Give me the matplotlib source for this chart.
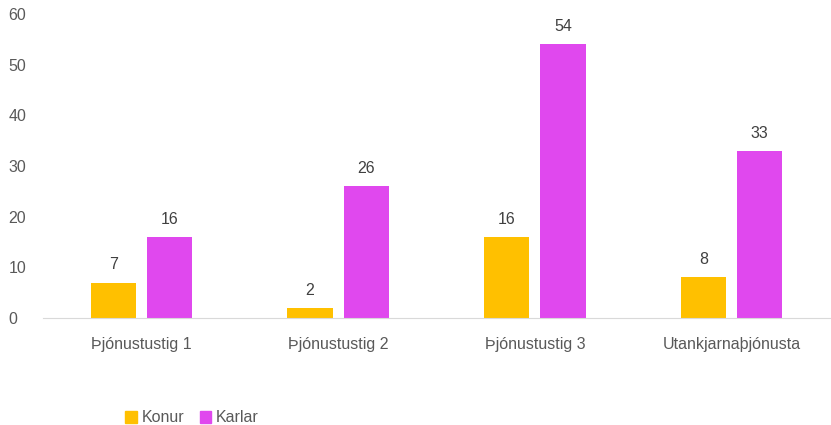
import numpy as np
import matplotlib.pyplot as plt
from matplotlib.patches import Patch

categories = ["Þjónustustig 1", "Þjónustustig 2", "Þjónustustig 3", "Utankjarnaþjónusta"]
konur = [7, 2, 16, 8]
karlar = [16, 26, 54, 33]

plt.rcParams['font.family'] = ['Liberation Sans', 'DejaVu Sans']
txt = '#595959'
c_konur = '#FFC000'
c_karlar = '#E048EE'

fig = plt.figure(figsize=(8.31, 4.25), dpi=100)
ax = fig.add_axes([43/831, 1 - 318/425, 787/831, 304/425])

x = np.arange(len(categories))
w = 0.229
off = 0.143
b1 = ax.bar(x - off, konur, w, color=c_konur)
b2 = ax.bar(x + off, karlar, w, color=c_karlar)

for bars, vals in ((b1, konur), (b2, karlar)):
    for b, v in zip(bars, vals):
        ax.text(b.get_x() + b.get_width() / 2, v + 3.5, str(v),
                ha='center', va='center', fontsize=11.5, color='#404040')

ax.set_xlim(-0.5, len(categories) - 0.5)
ax.set_ylim(0, 60)
ax.set_yticks(range(0, 61, 10))
ax.set_xticks(x)
ax.set_xticklabels(categories)
ax.tick_params(axis='both', length=0, labelsize=11.5, colors=txt)
ax.tick_params(axis='x', pad=14)
ax.tick_params(axis='y', pad=25)
for lab in ax.get_yticklabels():
    lab.set_horizontalalignment('left')
for s in ['top', 'right', 'left']:
    ax.spines[s].set_visible(False)
ax.spines['bottom'].set_color('#D9D9D9')

handles = [Patch(color=c_konur), Patch(color=c_karlar)]
fig.legend(handles, ["Konur", "Karlar"], loc='center', bbox_to_anchor=(192/831, 1 - 418/425),
           ncol=2, frameon=False, fontsize=11.5, labelcolor=txt,
           handlelength=0.7, handleheight=0.7, handletextpad=0.3, columnspacing=1.0)

fig.savefig('out.png', dpi=100)
